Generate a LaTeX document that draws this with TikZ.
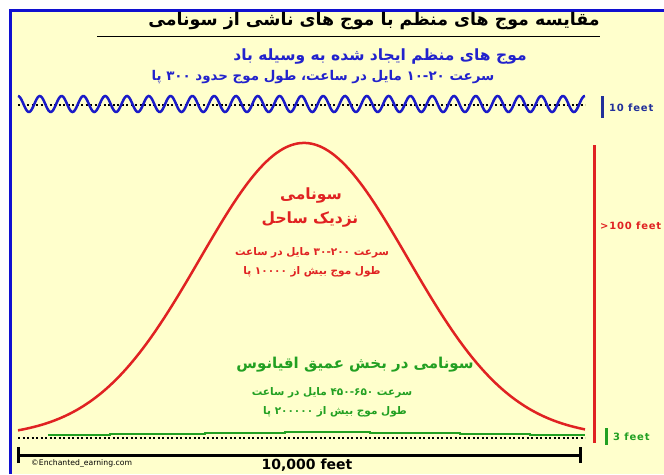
\documentclass[tikz,border=0pt]{standalone}
\usepackage{fontspec}
\setmainfont{Liberation Sans}
\newfontfamily\fa[Script=Arabic]{DejaVu Sans}
\newfontfamily\djsans{DejaVu Sans}
\newfontfamily\djlab[LetterSpace=8]{DejaVu Sans}
\TeXXeTstate=1
\definecolor{bgyellow}{HTML}{FFFFCC}
\definecolor{borderblue}{HTML}{1010D0}
\definecolor{txtblue}{HTML}{2222CC}
\definecolor{wblue}{HTML}{1A1AC8}
\definecolor{barblue}{HTML}{22309A}
\definecolor{tred}{HTML}{E02222}
\definecolor{tgreen}{HTML}{22A022}
\newcommand\fatxt[1]{\fa\bfseries\beginR #1\endR}
\tikzset{
  fatitle/.style={inner sep=0pt, font=\fontsize{17.4}{20}\selectfont},
  fahead/.style={inner sep=0pt, font=\fontsize{15.5}{18}\selectfont},
  fasmall/.style={inner sep=0pt, font=\fontsize{10.5}{12}\selectfont},
  lab/.style={inner sep=0pt, anchor=west, font=\djlab\fontsize{10}{12}\selectfont\bfseries},
  dotline/.style={line width=2pt, dash pattern=on 2pt off 2.5pt, black},
  bar/.style={line width=3pt}
}
\begin{document}
\begin{tikzpicture}[x=1pt,y=-1pt]
\useasboundingbox (0,0) rectangle (664,474);
\fill[white] (0,0) rectangle (664,474);
\fill[bgyellow] (9,9) rectangle (664,474);
\draw[borderblue, line width=3pt] (10,474) -- (10,10.5) -- (664,10.5);
% title
\node[fatitle, text=black] (title) at (374,21) {\fatxt{مقایسه موج های منظم با موج های ناشی از سونامی}};
\draw[black, line width=1pt] (97,36) -- (600,36);
% blue section
\node[fahead, text=txtblue] (bh) at (380,57) {\fatxt{موج های منظم ایجاد شده به وسیله باد}};
\node[inner sep=0pt, font=\fontsize{13.4}{15}\selectfont, text=txtblue] (bs) at (323,77) {\fatxt{سرعت ۱۰-۲۰ مایل در ساعت، طول موج حدود ۳۰۰ پا}};
\draw[dotline] (18,105) -- (585,105);
\draw[wblue, line width=2.5pt] plot[domain=18:585, samples=500] (\x, {104 - 8*cos((\x-18)/21.8*360)});
\draw[barblue, bar] (602,96) -- (602,118);
\node[lab, text=barblue] (l10) at (609,108) {10 feet};
% red
\draw[tred, line width=3pt] (594,145) -- (594,443);
\node[lab, text=tred] (l100) at (600,226) {>100 feet};
\draw[tred, line width=2.5pt] plot[domain=18:585, samples=200] (\x, {437 - 294*exp(-0.5*((\x-304)/104)^2)});
\node[fahead, text=tred] (r1) at (311,196) {\fatxt{سونامی}};
\node[fahead, text=tred] (r2) at (310,220) {\fatxt{نزدیک ساحل}};
\node[fasmall, text=tred] (r3) at (312,253) {\fatxt{سرعت ۳۰-۲۰۰ مایل در ساعت}};
\node[fasmall, text=tred] (r4) at (312,272) {\fatxt{طول موج بیش از ۱۰۰۰۰ پا}};
% green
\node[inner sep=0pt, font=\fontsize{15}{18}\selectfont, text=tgreen] (g1) at (355,365) {\fatxt{سونامی در بخش عمیق اقیانوس}};
\node[fasmall, text=tgreen] (g2) at (332,393) {\fatxt{سرعت ۴۵۰-۶۵۰ مایل در ساعت}};
\node[fasmall, text=tgreen] (g3) at (335,412) {\fatxt{طول موج بیش از ۲۰۰۰۰۰ پا}};
\draw[tgreen, line width=2.5pt] (48,435) -- (110,435) -- (110,434) -- (205,434) -- (205,433) -- (285,433) -- (285,432) -- (370,432) -- (370,433) -- (460,433) -- (460,434) -- (530,434) -- (530,435) -- (585,435);
\draw[dotline] (18,438) -- (585,438);
\draw[tgreen, bar] (606,428) -- (606,445);
\node[lab, text=tgreen] (l3) at (613,437) {3 feet};
% bottom scale
\coordinate (sl) at (18,455);
\coordinate (sr) at (580,455);
\draw[black, line width=3pt] (sl) -- (sr);
\draw[black, line width=3pt] ([yshift=-8pt]sl) -- ([yshift=8pt]sl);
\draw[black, line width=3pt] ([yshift=-8pt]sr) -- ([yshift=8pt]sr);
\node[inner sep=0pt, anchor=west, font=\djsans\fontsize{7.7}{9}\selectfont] (copy) at (31,463) {©Enchanted\_earning.com};
\node[inner sep=0pt, font=\djsans\fontsize{14}{16}\selectfont\bfseries] (ten) at (307,465) {10,000 feet};
\end{tikzpicture}
\end{document}
